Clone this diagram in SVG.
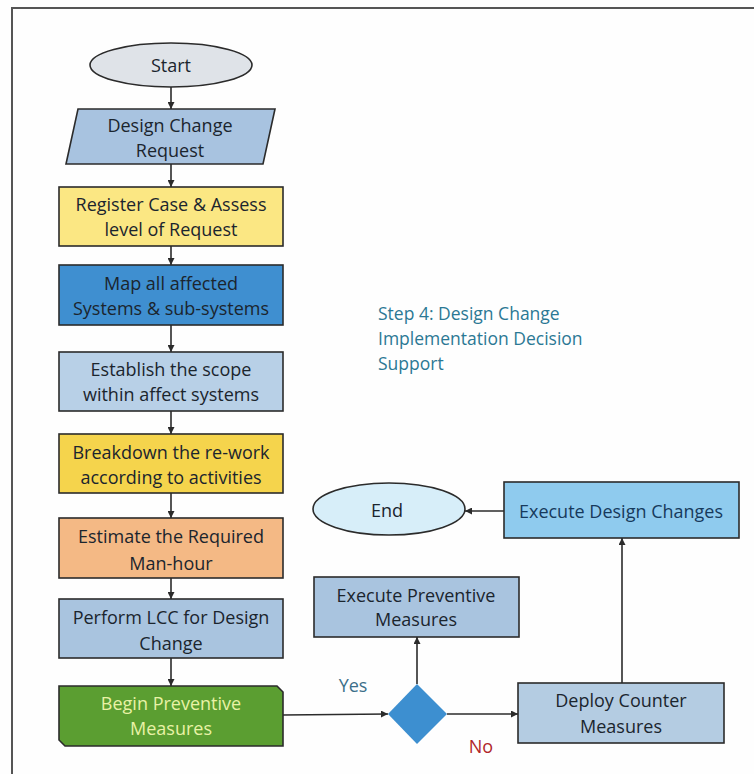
<svg xmlns="http://www.w3.org/2000/svg" width="754" height="774" viewBox="0 0 754 774">
  <defs>
    <marker id="arrow" viewBox="0 0 10 10" refX="10" refY="5" markerWidth="7" markerHeight="7" markerUnits="userSpaceOnUse" orient="auto">
      <path d="M0,0 L10,5 L0,10 z" fill="#2b2b2b"/>
    </marker>
    <style>
      .box { stroke: #2b2b2b; stroke-width: 1.6; }
      .lbl { font-family: "Open Sans", "Liberation Sans", sans-serif; font-size: 18px; fill: #1b252e; text-anchor: middle; dominant-baseline: central; }
      .wire { fill: none; stroke: #2b2b2b; stroke-width: 1.6; }
      .note { font-family: "Open Sans", "Liberation Sans", sans-serif; font-size: 17.5px; fill: #2b7894; dominant-baseline: central; }
    </style>
  </defs>

  <rect width="754" height="774" fill="#fefefe"/>
  <!-- outer frame -->
  <path d="M12,774 L12,8 L754,8" fill="none" stroke="#555" stroke-width="2"/>

  <!-- connectors -->
  <g id="connectors">
    <line class="wire" x1="171" y1="87" x2="171" y2="109" marker-end="url(#arrow)"/>
    <line class="wire" x1="171" y1="164" x2="171" y2="187" marker-end="url(#arrow)"/>
    <line class="wire" x1="171" y1="246" x2="171" y2="265" marker-end="url(#arrow)"/>
    <line class="wire" x1="171" y1="325" x2="171" y2="352" marker-end="url(#arrow)"/>
    <line class="wire" x1="171" y1="411" x2="171" y2="434" marker-end="url(#arrow)"/>
    <line class="wire" x1="171" y1="493" x2="171" y2="518" marker-end="url(#arrow)"/>
    <line class="wire" x1="171" y1="578" x2="171" y2="599" marker-end="url(#arrow)"/>
    <line class="wire" x1="171" y1="658" x2="171" y2="686" marker-end="url(#arrow)"/>
    <line class="wire" x1="283" y1="715" x2="388" y2="714" marker-end="url(#arrow)"/>
    <line class="wire" x1="417" y1="684" x2="417" y2="637" marker-end="url(#arrow)"/>
    <line class="wire" x1="447" y1="714" x2="518" y2="714" marker-end="url(#arrow)"/>
    <line class="wire" x1="622" y1="683" x2="622" y2="538" marker-end="url(#arrow)"/>
    <line class="wire" x1="504" y1="511" x2="465" y2="511" marker-end="url(#arrow)"/>
  </g>

  <g id="start">
    <ellipse class="box" cx="171" cy="65" rx="81" ry="22" fill="#dfe3e8"/>
    <text class="lbl" x="171" y="65">Start</text>
  </g>

  <g id="request">
    <polygon class="box" points="78,109 275,109 263,164 66,164" fill="#a8c3e0"/>
    <text class="lbl" x="170" y="125">Design Change</text>
    <text class="lbl" x="170" y="150">Request</text>
  </g>

  <g id="register">
    <rect class="box" x="59" y="187" width="224" height="59" fill="#fbe783"/>
    <text class="lbl" x="171" y="204">Register Case &amp; Assess</text>
    <text class="lbl" x="171" y="229">level of Request</text>
  </g>

  <g id="map">
    <rect class="box" x="59" y="265" width="224" height="60" fill="#3f8fd0"/>
    <text class="lbl" x="171" y="283">Map all affected</text>
    <text class="lbl" x="171" y="308">Systems &amp; sub-systems</text>
  </g>

  <g id="scope">
    <rect class="box" x="59" y="352" width="224" height="59" fill="#b8d0e7"/>
    <text class="lbl" x="171" y="369">Establish the scope</text>
    <text class="lbl" x="171" y="394">within affect systems</text>
  </g>

  <g id="breakdown">
    <rect class="box" x="59" y="434" width="224" height="59" fill="#f5d44c"/>
    <text class="lbl" x="171" y="452">Breakdown the re-work</text>
    <text class="lbl" x="171" y="477">according to activities</text>
  </g>

  <g id="estimate">
    <rect class="box" x="59" y="518" width="224" height="60" fill="#f4b985"/>
    <text class="lbl" x="171" y="536">Estimate the Required</text>
    <text class="lbl" x="171" y="563">Man-hour</text>
  </g>

  <g id="lcc">
    <rect class="box" x="59" y="599" width="224" height="59" fill="#a9c4df"/>
    <text class="lbl" x="171" y="617">Perform LCC for Design</text>
    <text class="lbl" x="171" y="643">Change</text>
  </g>

  <g id="begin">
    <path class="box" d="M59,686 L277,686 L283,692 L283,746 L65,746 L59,740 Z" fill="#5b9e31"/>
    <text class="lbl" x="171" y="703" style="fill:#e9f2a6">Begin Preventive</text>
    <text class="lbl" x="171" y="728" style="fill:#e9f2a6">Measures</text>
  </g>

  <g id="decision">
    <polygon points="417,684 447,714 417,744 388,714" fill="#3d8fd0"/>
  </g>

  <g id="exec-preventive">
    <rect class="box" x="314" y="577" width="205" height="60" fill="#a9c4df"/>
    <text class="lbl" x="416" y="595">Execute Preventive</text>
    <text class="lbl" x="416" y="619">Measures</text>
  </g>

  <g id="deploy">
    <rect class="box" x="518" y="683" width="206" height="60" fill="#b4cce2"/>
    <text class="lbl" x="621" y="700">Deploy Counter</text>
    <text class="lbl" x="621" y="726">Measures</text>
  </g>

  <g id="exec-design">
    <rect class="box" x="504" y="482" width="235" height="56" fill="#8fcbee"/>
    <text class="lbl" x="621" y="511" style="fill:#173a5c">Execute Design Changes</text>
  </g>

  <g id="end">
    <ellipse class="box" cx="389" cy="509" rx="76" ry="26" fill="#d7eef9"/>
    <text class="lbl" x="387" y="510">End</text>
  </g>

  <g id="labels">
    <text class="lbl" x="353" y="685" style="fill:#3c6f8a">Yes</text>
    <text class="lbl" x="481" y="746" style="fill:#b0262a">No</text>
    <text class="note" x="378" y="313">Step 4: Design Change</text>
    <text class="note" x="378" y="338">Implementation Decision</text>
    <text class="note" x="378" y="363">Support</text>
  </g>
</svg>
